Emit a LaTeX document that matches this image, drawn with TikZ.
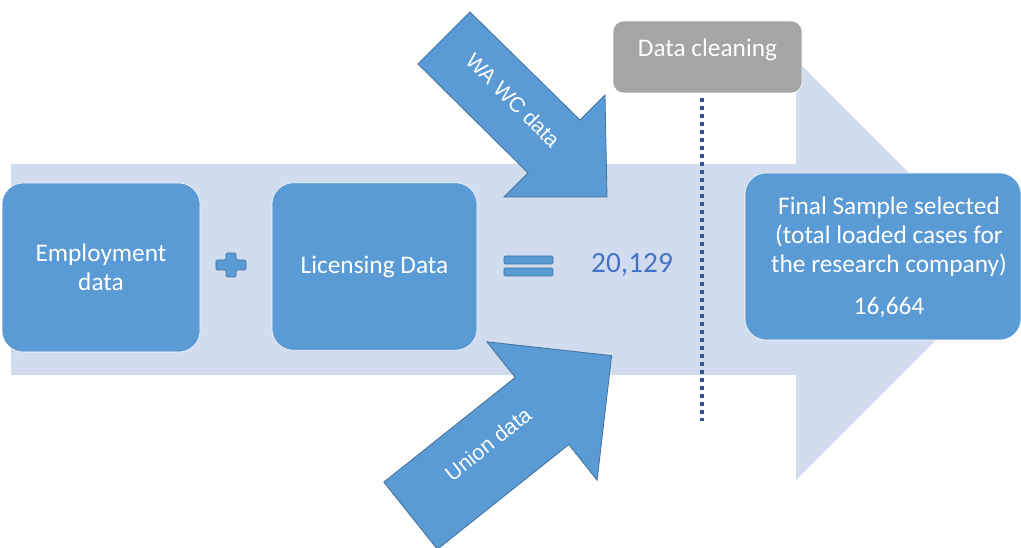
\documentclass[tikz,border=0pt]{standalone}
\usepackage{fontspec}
\setmainfont{Carlito}
\newfontfamily\arrowfont{Liberation Sans}
\usepackage{tikz}
\definecolor{flowbg}{RGB}{209,221,239}
\definecolor{boxblue}{RGB}{91,155,213}
\definecolor{edgeblue}{RGB}{65,113,156}
\definecolor{numblue}{RGB}{68,114,196}
\definecolor{cleangray}{RGB}{165,165,165}
\definecolor{cutblue}{RGB}{47,85,151}

\begin{document}
\begin{tikzpicture}[%
    x=0.75pt, y=-0.75pt,
    databox/.style={
      draw=white,
      thin,
      fill=boxblue,
      rounded corners=16pt,
      minimum height=125.5pt,
      inner sep=0pt
    },
    boxtext/.style={
      text=white,
      align=center,
      inner sep=0pt,
      font=\fontsize{19}{21.75}\selectfont
    },
    inflow/.style={
      draw=edgeblue,
      fill=boxblue,
      line width=0.6pt
    },
    inflowtext/.style={
      text=white,
      inner sep=0pt,
      font=\arrowfont\fontsize{16}{19}\selectfont
    },
    opsign/.style={
      draw=edgeblue,
      fill=boxblue,
      line width=0.6pt,
      rounded corners=1pt
    },
    cutline/.style={
      draw=cutblue,
      line width=3pt,
      dash pattern=on 3pt off 3pt
    }]
    \useasboundingbox (0,0) rectangle (1021,548);

    \fill[flowbg] (11,164) -- (796,164) -- (796,60) -- (1006,270)
        -- (796,480) -- (796,375) -- (11,375) -- cycle;

    \node[databox, minimum width=148.5pt, minimum height=126.75pt] at (101,267.5) (employ) {};
    \node[boxtext] at (101,267.5) (employtext) {Employment\\data};
    \node[databox, minimum width=153.75pt] at (374.5,266.5) (licence) {};
    \node[boxtext] at (374.5,266.5) (licencetext) {Licensing Data};

    \draw[opsign] (226,253) -- (236,253) -- (236,260) -- (246,260) -- (246,270)
        -- (236,270) -- (236,277) -- (226,277) -- (226,270) -- (216,270)
        -- (216,260) -- (226,260) -- cycle;
    \draw[opsign] (504,256) rectangle (553,264);
    \draw[opsign] (504,268) rectangle (553,276);
    \node[text=numblue, inner sep=0pt, font=\fontsize{22}{25}\selectfont]
        at (632,265) (total) {20,129};

    \draw[inflow] (470,12) -- (580,120) -- (605,95) -- (607,197) -- (504,197)
        -- (528,173) -- (418,64) -- cycle;
    \node[inflowtext, rotate=-45] at (513,100) (wawc) {WA WC data};

    \draw[inflow] (383.8,482.1) -- (515.2,377.4) -- (486.9,341.8) -- (611.6,355.6)
        -- (597.1,480.2) -- (568.8,444.6) -- (437.4,549.3) -- cycle;
    \node[inflowtext, rotate=38.5] at (488,444) (union) {Union data};

    \node[draw=white, thin, fill=cleangray, rounded corners=8pt, inner sep=0pt,
        minimum width=141.75pt, minimum height=54pt] at (707.5,57) (clean) {};
    \node[boxtext] at (707.5,50) (cleantext) {Data cleaning};
    \coordinate (cuttop) at (702,98);
    \coordinate (cutend) at (702,421);
    \path[cutline] (cuttop) -- (cutend);

    \node[databox, minimum width=207pt, minimum height=125.25pt] at (883,256.5) (final) {};
    \node[boxtext] at (889,257.5) (finaltext)
        {Final Sample selected\\(total loaded cases for\\the research company)\\[10pt]16,664};
\end{tikzpicture}
\end{document}
